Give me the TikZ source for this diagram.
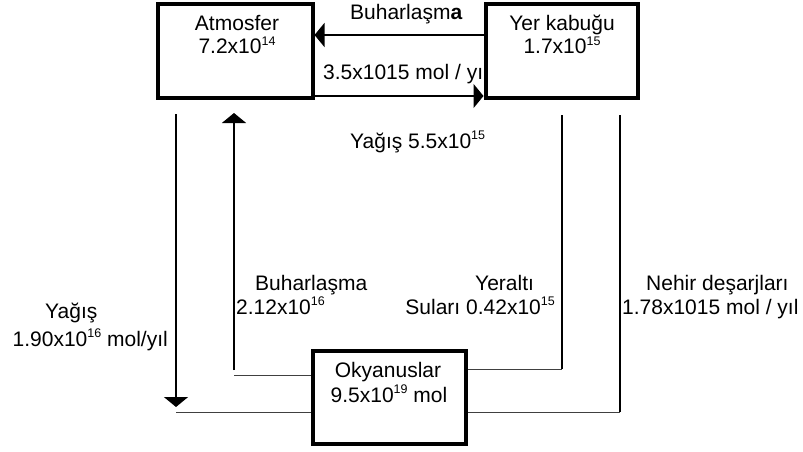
\documentclass[tikz,border=0pt]{standalone}
\usepackage{fontspec}
\setmainfont{Liberation Sans}
\usetikzlibrary{arrows.meta}

% small raised exponent
\newcommand\ssup[1]{\raisebox{8.5pt}{\fontsize{12.5}{13}\selectfont #1}}

\tikzset{
  x=1pt, y=-1pt,
  txt/.style={inner sep=0pt, font=\fontsize{21}{24}\selectfont},
  reservoir/.style={draw, line width=4pt, minimum width=152.5pt, minimum height=93pt, inner sep=0pt},
  flow/.style={line width=1.5pt, -{Triangle[width=24pt,length=10pt]}},
  feed/.style={line width=1pt, draw=black!75},
  riser/.style={line width=1.2pt},
}

\begin{document}
\begin{tikzpicture}
\useasboundingbox (0,0) rectangle (803,452);

% labels that pass under a box edge come first
\node[txt, anchor=base west] (lblAtmYer) at (323,80) {3.5x1015 mol / yıl};

% reservoirs
\node[reservoir, minimum width=155pt] (atm) at (235,51) {};
\node[reservoir] (yer) at (561.75,51) {};
\node[reservoir] (oky) at (389.25,397.5) {};

\node[txt, anchor=base] (atmA) at (237,31) {Atmosfer};
\node[txt, anchor=base] (atmB) at (237,54) {7.2x10\ssup{14}};
\node[txt, anchor=base] (yerA) at (562,31) {Yer kabuğu};
\node[txt, anchor=base] (yerB) at (562,54) {1.7x10\ssup{15}};
\node[txt, anchor=base] (okyA) at (388,377) {Okyanuslar};
\node[txt, anchor=base] (okyB) at (389,402) {9.5x10\ssup{19} mol};

% exchanges between atmosphere and crust
\coordinate (evapY) at (0,35);
\coordinate (rainY) at (0,96);
\draw[flow] (yer.west |- evapY) -- (atm.east |- evapY);
\draw[flow] (atm.east |- rainY) -- (yer.west |- rainY);
\node[txt, anchor=base west] (lblEvapTop) at (350,20) {Buharlaşm\textbf{a}};
\node[txt, anchor=base west] (lblRainTop) at (350,148) {Yağış 5.5x10\ssup{15}};

% precipitation onto the ocean
\coordinate (rainTop) at (176,114);
\coordinate (rainTip) at (176,407);
\coordinate (rainFoot) at (176,412);
\draw[flow] (rainTop) -- (rainTip);
\draw[feed] (rainFoot) -- (oky.west |- rainFoot);
\node[txt, anchor=base west] (lblRainA) at (45,318) {Yağış};
\node[txt, anchor=base east] (lblRainB) at (168,346) {1.90x10\ssup{16} mol/yıl};

% evaporation from the ocean
\coordinate (evapFoot) at (234,375);
\coordinate (evapBase) at (234,370);
\coordinate (evapTip) at (234,113);
\draw[flow] (evapBase) -- (evapTip);
\draw[feed] (evapFoot) -- (oky.west |- evapFoot);
\node[txt, anchor=base west] (lblEvapA) at (255,290) {Buharlaşma};
\node[txt, anchor=base west] (lblEvapB) at (236,314) {2.12x10\ssup{16}};

% groundwater
\coordinate (gwTop) at (562,115);
\coordinate (gwFoot) at (562,369);
\draw[riser] (gwTop) -- (gwFoot);
\draw[feed] (gwFoot) -- (oky.east |- gwFoot);
\node[txt, anchor=base west] (lblGwA) at (475,290) {Yeraltı};
\node[txt, anchor=base east] (lblGwB) at (555,314) {Suları 0.42x10\ssup{15}};

% river discharge
\coordinate (rivTop) at (620,115);
\coordinate (rivFoot) at (620,412);
\draw[riser] (rivTop) -- (rivFoot);
\draw[feed] (rivFoot) -- (oky.east |- rivFoot);
\node[txt, anchor=base west] (lblRivA) at (646,290) {Nehir deşarjları};
\node[txt, anchor=base west] (lblRivB) at (622,314) {1.78x1015 mol / yıl};
\end{tikzpicture}
\end{document}
